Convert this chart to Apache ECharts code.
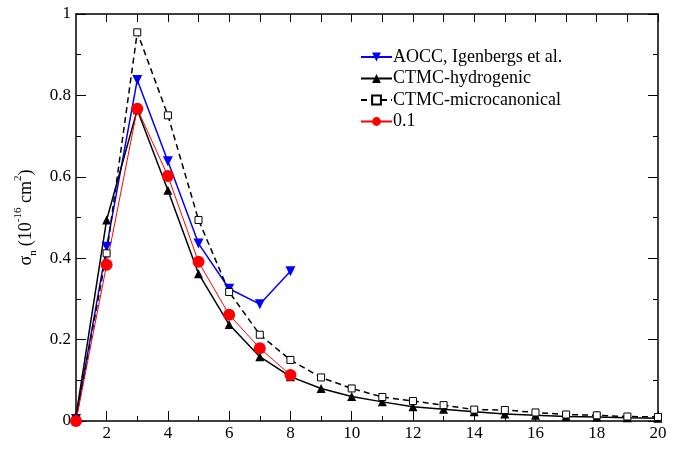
<!DOCTYPE html>
<html>
<head>
<meta charset="utf-8">
<script src="https://cdn.jsdelivr.net/npm/echarts@6/dist/echarts.min.js"></script>
<style>
	html, body { margin: 0; padding: 0; background: #fff; }
	#chart { width: 677px; height: 452px; }
</style>
</head>
<body>
<div id="chart"></div>
<script>
	// n values
	var nAOCC = [1, 2, 3, 4, 5, 6, 7, 8];
	var nCTMC = [1, 2, 3, 4, 5, 6, 7, 8, 9, 10, 11, 12, 13, 14, 15, 16, 17, 18, 19, 20];
	var n01 = [1, 2, 3, 4, 5, 6, 7, 8];

	// sigma_n (10^-16 cm^2)
	var sigAOCC = [0.005, 0.428, 0.838, 0.638, 0.436, 0.325, 0.287, 0.368];
	var sigHydro = [0.012, 0.494, 0.765, 0.567, 0.362, 0.237, 0.158, 0.109, 0.080, 0.060, 0.047, 0.035, 0.029, 0.023, 0.017, 0.014, 0.011, 0.010, 0.008, 0.007];
	var sigMicro = [0.005, 0.412, 0.955, 0.751, 0.494, 0.317, 0.212, 0.150, 0.107, 0.080, 0.059, 0.049, 0.039, 0.028, 0.027, 0.021, 0.016, 0.014, 0.011, 0.010];
	var sig01 = [0.0, 0.384, 0.767, 0.602, 0.391, 0.261, 0.179, 0.113];

	// ticks
	var xMajor = [2, 4, 6, 8, 10, 12, 14, 16, 18, 20];
	var xMinor = [3, 5, 7, 9, 11, 13, 15, 17, 19];

	function pairs(xs, ys) {
		return xs.map(function (x, i) { return [x, ys[i]]; });
	}

	var font = 'Liberation Serif';
	var chart = echarts.init(document.getElementById('chart'));

	function xAx(pos, vals, len, main) {
		var bottom = pos === 'bottom';
		return {
			type: 'value',
			min: 1,
			max: 20,
			position: pos,
			name: main && bottom ? 'n' : '',
			nameLocation: 'middle',
			nameGap: 16,
			nameTextStyle: { color: '#000', fontSize: 17, fontFamily: font },
			axisLine: { show: main, onZero: false, lineStyle: { color: '#000', width: 1.5 } },
			axisTick: { show: true, inside: true, length: len, customValues: vals, lineStyle: { color: '#000', width: 1 } },
			axisLabel: { show: main && bottom, customValues: vals, color: '#000', fontSize: 17, fontFamily: font, margin: 4 },
			splitLine: { show: false }
		};
	}

	function yAx(pos, main) {
		return {
			type: 'value',
			min: 0,
			max: 1,
			interval: 0.2,
			position: pos,
			name: main ? '{t|σ}{sb|n}{t|(10}{sp|-16}{t| cm}{sp|2}{t|)}' : '',
			nameLocation: 'middle',
			nameGap: 26,
			nameTextStyle: {
				rich: {
					t: { fontSize: 18, fontFamily: font, color: '#000', lineHeight: 26, verticalAlign: 'middle' },
					sb: { fontSize: 11, fontFamily: font, color: '#000', lineHeight: 26, verticalAlign: 'bottom', padding: [0, 4, 0, 0] },
					sp: { fontSize: 11, fontFamily: font, color: '#000', lineHeight: 26, verticalAlign: 'top' }
				}
			},
			axisLine: { show: true, onZero: false, lineStyle: { color: '#000', width: 1.5 } },
			axisTick: { show: true, inside: true, length: 10, lineStyle: { color: '#000', width: 1 } },
			minorTick: { show: true, splitNumber: 2, length: 5, lineStyle: { color: '#000', width: 1 } },
			axisLabel: {
				show: main, color: '#000', fontSize: 17, fontFamily: font, margin: 5,
				formatter: function (v) { return v === 0 || v === 1 ? String(v) : String(+v.toFixed(1)); }
			},
			splitLine: { show: false }
		};
	}

	var option = {
		animation: false,
		backgroundColor: '#fff',
		grid: { left: 76, right: 19, top: 14, bottom: 31, outerBoundsMode: 'none', containLabel: false },
		legend: {
			orient: 'vertical',
			left: 355,
			top: 43,
			itemWidth: 31,
			itemHeight: 11,
			itemGap: 3.5,
			textStyle: { color: '#000', fontSize: 18, fontFamily: font, padding: [0, 0, 0, -4] },
			data: ['AOCC, Igenbergs et al.', 'CTMC-hydrogenic', 'CTMC-microcanonical', '0.1']
		},
		xAxis: [
			xAx('bottom', xMajor, 10, true),
			xAx('bottom', xMinor, 5, false),
			xAx('top', xMajor, 8, true),
			xAx('top', xMinor, 8, false)
		],
		yAxis: [
			yAx('left', true),
			yAx('right', false)
		],
		series: [
			{
				name: 'AOCC, Igenbergs et al.',
				type: 'line',
				data: pairs(nAOCC, sigAOCC),
				symbol: 'triangle',
				symbolRotate: 180,
				symbolSize: 10,
				itemStyle: { color: '#0000ff' },
				lineStyle: { color: '#0000ff', width: 1.5 }
			},
			{
				name: 'CTMC-hydrogenic',
				type: 'line',
				data: pairs(nCTMC, sigHydro),
				symbol: 'triangle',
				symbolSize: 9,
				itemStyle: { color: '#000' },
				lineStyle: { color: '#000', width: 1.5 }
			},
			{
				name: 'CTMC-microcanonical',
				type: 'line',
				data: pairs(nCTMC, sigMicro),
				symbol: 'rect',
				symbolSize: 7,
				itemStyle: { color: '#fff', borderColor: '#000', borderWidth: 1 },
				lineStyle: { color: '#000', width: 1.5, type: [6, 4] }
			},
			{
				name: '0.1',
				type: 'line',
				data: pairs(n01, sig01),
				symbol: 'circle',
				symbolSize: 12,
				itemStyle: { color: '#ff0000' },
				lineStyle: { color: '#ff0000', width: 1 }
			}
		]
	};
	chart.setOption(option);
</script>
</body>
</html>
